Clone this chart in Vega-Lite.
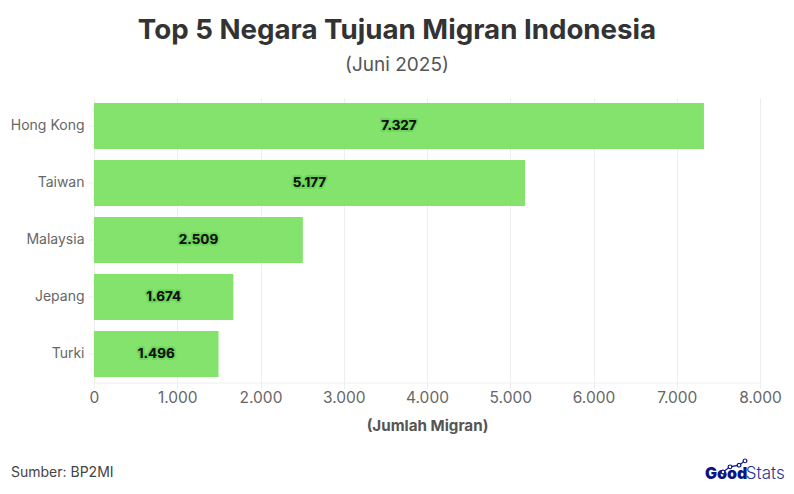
{"$schema":"https://vega.github.io/schema/vega-lite/v6.json","width":666,"height":285,"autosize":{"type":"none"},"padding":{"left":94,"top":97.5,"right":34,"bottom":111.5},"background":"white","title":{"text":"Top 5 Negara Tujuan Migran Indonesia","subtitle":"(Juni 2025)","anchor":"middle","dx":-30,"offset":23,"font":"Inter","fontSize":27.7,"fontWeight":700,"color":"#333333","subtitleFont":"Inter","subtitleFontSize":19,"subtitleFontWeight":400,"subtitleColor":"#555555","subtitlePadding":11},"config":{"view":{"stroke":null}},"datasets":{"bars":[{"negara":"Hong Kong","jumlah":7327,"label":"7.327"},{"negara":"Taiwan","jumlah":5177,"label":"5.177"},{"negara":"Malaysia","jumlah":2509,"label":"2.509"},{"negara":"Jepang","jumlah":1674,"label":"1.674"},{"negara":"Turki","jumlah":1496,"label":"1.496"}],"logo":[{"a":7556,"b":-31.4},{"a":7640,"b":-29.6},{"a":7748,"b":-29.0},{"a":7820,"b":-27.5}],"notes":[{"a":-997,"b":-33.2,"t":"Sumber: BP2MI"}],"good":[{"a":7339,"b":-33.9,"t":"Good"}],"stats":[{"a":7830,"b":-33.9,"t":"Stats"}]},"resolve":{"scale":{"y":"independent"}},"layer":[{"data":{"name":"bars"},"mark":{"type":"bar","color":"#77E05D","opacity":0.9},"encoding":{"y":{"field":"negara","type":"nominal","sort":null,"scale":{"domain":["Hong Kong","Taiwan","Malaysia","Jepang","Turki"],"paddingInner":0.19,"paddingOuter":0.095},"axis":{"title":null,"labelFont":"Inter","labelFontSize":14,"labelColor":"#666666","labelPadding":4,"labelOffset":0,"tickColor":"#eeeeee","tickSize":6,"domain":true,"domainColor":"#eeeeee","grid":false}},"x":{"field":"jumlah","type":"quantitative","scale":{"domain":[0,8000]},"axis":{"title":"(Jumlah Migran)","titleFont":"Inter","titleFontSize":15.2,"titleFontWeight":700,"titleColor":"#555555","titlePadding":12,"labelFont":"Inter","labelFontSize":15.5,"labelColor":"#666666","labelPadding":2,"labelFlush":false,"tickColor":"#eeeeee","tickSize":6,"domainColor":"#eeeeee","gridColor":"#eeeeee","grid":true,"values":[0,1000,2000,3000,4000,5000,6000,7000,8000],"labelExpr":"replace(format(datum.value, ','), ',', '.')"}}}},{"data":{"name":"bars"},"transform":[{"calculate":"datum.jumlah/2","as":"tengah"}],"mark":{"type":"text","font":"Inter","fontSize":13.5,"fontWeight":700,"stroke":"#5fd04f","strokeWidth":4,"strokeOpacity":0.6,"strokeJoin":"round"},"encoding":{"y":{"field":"negara","type":"nominal","sort":null,"scale":{"domain":["Hong Kong","Taiwan","Malaysia","Jepang","Turki"],"paddingInner":0.19,"paddingOuter":0.095},"axis":null},"x":{"field":"tengah","type":"quantitative"},"text":{"field":"label"}}},{"data":{"name":"bars"},"transform":[{"calculate":"datum.jumlah/2","as":"tengah"}],"mark":{"type":"text","font":"Inter","fontSize":13.5,"fontWeight":700,"color":"#111111"},"encoding":{"y":{"field":"negara","type":"nominal","sort":null,"scale":{"domain":["Hong Kong","Taiwan","Malaysia","Jepang","Turki"],"paddingInner":0.19,"paddingOuter":0.095},"axis":null},"x":{"field":"tengah","type":"quantitative"},"text":{"field":"label"}}},{"data":{"name":"notes"},"mark":{"type":"text","align":"left","baseline":"alphabetic","font":"Inter","fontSize":14,"color":"#444444","clip":false},"encoding":{"x":{"field":"a","type":"quantitative"},"y":{"field":"b","type":"quantitative","scale":{"domain":[0,100]},"axis":null},"text":{"field":"t"}}},{"data":{"name":"good"},"mark":{"type":"text","align":"left","baseline":"alphabetic","font":"Inter","fontSize":16,"fontWeight":900,"color":"#0B1480","clip":false},"encoding":{"x":{"field":"a","type":"quantitative"},"y":{"field":"b","type":"quantitative","scale":{"domain":[0,100]},"axis":null},"text":{"field":"t"}}},{"data":{"name":"stats"},"mark":{"type":"text","align":"left","baseline":"alphabetic","font":"Inter","fontSize":17,"fontWeight":300,"color":"#2A3490","clip":false},"encoding":{"x":{"field":"a","type":"quantitative"},"y":{"field":"b","type":"quantitative","scale":{"domain":[0,100]},"axis":null},"text":{"field":"t"}}},{"data":{"name":"logo"},"mark":{"type":"line","color":"#0B1480","strokeWidth":1.2,"clip":false,"point":{"filled":false,"fill":"white","stroke":"#0B1480","size":14,"strokeWidth":1.2}},"encoding":{"x":{"field":"a","type":"quantitative"},"y":{"field":"b","type":"quantitative","scale":{"domain":[0,100]},"axis":null}}}]}
